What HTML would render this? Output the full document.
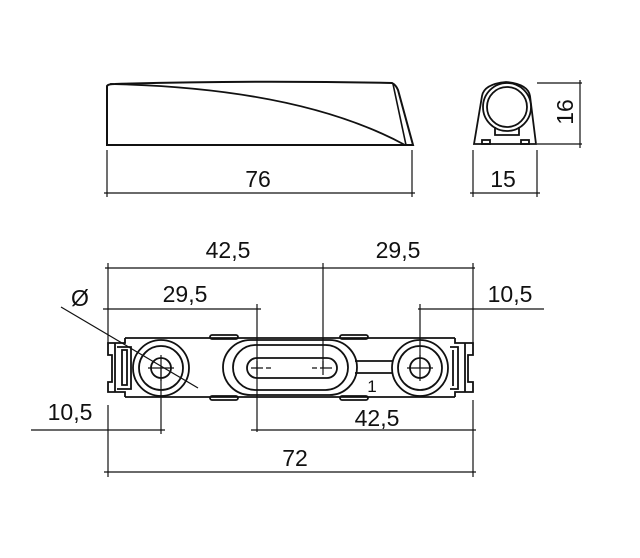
<!DOCTYPE html>
<html><head><meta charset="utf-8"><style>
html,body{margin:0;padding:0;background:#fff}
svg{display:block}
text{font-family:"Liberation Sans",sans-serif;font-size:23px;fill:#111}
</style></head><body>
<svg width="640" height="558" viewBox="0 0 640 558" xmlns="http://www.w3.org/2000/svg">
<g fill="none" stroke="#111" stroke-width="1.8">
<!-- side view -->
<path d="M107,145 L107,86 Q108,84 115,84 Q250,80 392,83 Q396,85 398,90 L413,145 Z" stroke-width="2"/>
<path d="M110,84 Q300,88 405,145" stroke-width="1.8"/>
<path d="M393,84 L406,145" stroke-width="1.6"/>
<!-- 76 dims -->
<line x1="107" y1="150" x2="107" y2="197" stroke-width="1.2"/>
<line x1="412" y1="150" x2="412" y2="197" stroke-width="1.2"/>
<line x1="104" y1="193" x2="415" y2="193" stroke-width="1.2"/>
<!-- end view -->
<path d="M474,144 L482,96 Q484,84 506,82 Q528,84 530,96 L536,144 Z" stroke-width="1.8"/>
<circle cx="507" cy="107" r="24"/>
<circle cx="507" cy="107" r="20"/>
<path d="M495,127 L495,135 L519,135 L519,127"/>
<rect x="482" y="140" width="8" height="4"/>
<rect x="521" y="140" width="8" height="4"/>
<line x1="473" y1="150" x2="473" y2="197" stroke-width="1.2"/>
<line x1="537" y1="150" x2="537" y2="197" stroke-width="1.2"/>
<line x1="470" y1="193" x2="540" y2="193" stroke-width="1.2"/>
<line x1="537" y1="83" x2="582" y2="83" stroke-width="1.2"/>
<line x1="537" y1="144" x2="582" y2="144" stroke-width="1.2"/>
<line x1="580" y1="80" x2="580" y2="148" stroke-width="1.2"/>
<!-- top dims -->
<g stroke-width="1.2">
<line x1="105" y1="268" x2="475" y2="268"/>
<line x1="108" y1="263" x2="108" y2="345"/>
<line x1="323" y1="263" x2="323" y2="368"/>
<line x1="473" y1="263" x2="473" y2="345"/>
<line x1="103" y1="309" x2="261" y2="309"/>
<line x1="257" y1="304" x2="257" y2="432"/>
<line x1="418" y1="309" x2="544" y2="309"/>
<line x1="420" y1="304" x2="420" y2="368"/>
<line x1="61" y1="307" x2="198" y2="388"/>
<line x1="31" y1="430" x2="165" y2="430"/>
<line x1="161" y1="368" x2="161" y2="434"/>
<line x1="251" y1="430" x2="476" y2="430"/>
<line x1="473" y1="400" x2="473" y2="477"/>
<line x1="108" y1="405" x2="108" y2="477"/>
<line x1="104" y1="472" x2="476" y2="472"/>
</g>
<!-- body -->
<path d="M125,338 L455,338 M125,397 L455,397" />
<rect x="210" y="335" width="28" height="4" rx="2"/>
<rect x="340" y="335" width="28" height="4" rx="2"/>
<rect x="210" y="396" width="28" height="4" rx="2"/>
<rect x="340" y="396" width="28" height="4" rx="2"/>
<!-- left end -->
<path d="M125,338 L125,343 L115,343 L115,392 L125,392 L125,397 M115,343 L108,343 L108,355 L112,355 L112,382 L108,382 L108,392 L115,392"/>
<path d="M122,350 L127,350 L127,385 L122,385 Z M117,347 L131,347 L131,389 L117,389"/>
<!-- right end -->
<path d="M455,338 L455,343 L465,343 L465,392 L455,392 L455,397 M465,343 L473,343 L473,355 L468,355 L468,382 L473,382 L473,392 L465,392"/>
<path d="M450,347 L458,347 L458,389 L450,389 M453,350 L453,386"/>
<!-- circles -->
<circle cx="161" cy="368" r="28"/>
<circle cx="161" cy="368" r="22"/>
<circle cx="161" cy="368" r="10"/>
<circle cx="420" cy="368" r="28"/>
<circle cx="420" cy="368" r="22"/>
<circle cx="420" cy="368" r="10"/>
<line x1="148" y1="368" x2="174" y2="368" stroke-width="1.2"/>
<line x1="161" y1="355" x2="161" y2="381" stroke-width="1.2"/>
<line x1="407" y1="368" x2="433" y2="368" stroke-width="1.2"/>
<line x1="420" y1="355" x2="420" y2="381" stroke-width="1.2"/>
<!-- connector bar -->
<path d="M355,361 L393,361 M355,373 L393,373"/>
<!-- slot -->
<rect x="223" y="340" width="134" height="55" rx="27.5"/>
<rect x="233" y="345" width="115" height="45" rx="22.5"/>
<rect x="247" y="358" width="90" height="20" rx="10"/>
<path d="M251,368 L263,368 M266,368 L271,368 M257,361 L257,375 M312,368 L317,368 M320,368 L332,368 M323,361 L323,375" stroke-width="1.2"/>
</g>
<text x="258" y="187" text-anchor="middle">76</text>
<text x="503" y="187" text-anchor="middle">15</text>
<text x="0" y="0" text-anchor="middle" transform="translate(573,112) rotate(-90)">16</text>
<text x="228" y="258" text-anchor="middle">42,5</text>
<text x="398" y="258" text-anchor="middle">29,5</text>
<text x="185" y="302" text-anchor="middle">29,5</text>
<text x="510" y="302" text-anchor="middle">10,5</text>
<text x="80" y="306" text-anchor="middle">Ø</text>
<text x="70" y="420" text-anchor="middle">10,5</text>
<text x="377" y="426" text-anchor="middle">42,5</text>
<text x="295" y="466" text-anchor="middle">72</text>
<text x="372" y="392" text-anchor="middle" style="font-size:17px">1</text>
</svg>
</body></html>
